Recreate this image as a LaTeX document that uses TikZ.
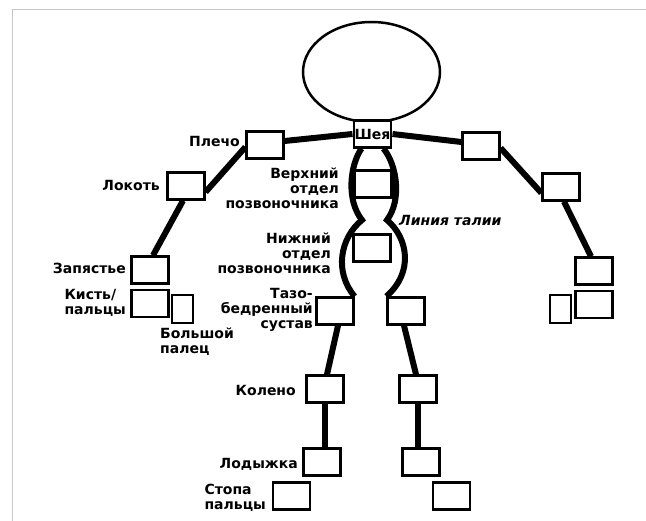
\documentclass[tikz,border=0pt]{standalone}
\usepackage{fontspec}
\setmainfont{DejaVu Sans}
\usetikzlibrary{positioning,shapes.geometric}

\begin{document}
\begin{tikzpicture}[x=1pt,y=-1pt,
  joint/.style={draw,line width=2.2pt,minimum width=37pt,minimum height=27pt,inner sep=0pt,fill=white},
  thumb/.style={joint,minimum width=21pt,minimum height=28pt},
  lbl/.style={font=\bfseries\fontsize{14}{14.8}\selectfont,inner sep=0pt,align=right},
  bone/.style={line width=6pt},
  spine/.style={line width=6pt,line join=miter}]

\useasboundingbox (0,0) rectangle (646,521);
\draw[black!22,line width=1.5pt] (12.5,521) -- (12.5,9.5) -- (646,9.5);

% head and trunk
\node[draw,ellipse,line width=2.5pt,minimum width=137pt,minimum height=100pt](head) at (371.5,72) {};
\node[joint,minimum width=36pt,inner sep=1pt,font=\bfseries\fontsize{14}{14}\selectfont](neck) at (372.5,134) {Шея};
\node[joint](upsp) at (373,184) {};
\node[joint](losp) at (372,248) {};
\node[joint](lhip) at (335,311) {};
\node[joint](rhip) at (406,311) {};

% arms
\node[joint](lsh) at (265,145) {};
\node[joint](rsh) at (481,146) {};
\node[joint](lel) at (186,186) {};
\node[joint](rel) at (561,187) {};
\node[joint](lwr) at (150,270) {};
\node[joint](rwr) at (594,271) {};
\node[joint](lhand)[below=4pt of lwr] {};
\node[joint](rhand)[below=4pt of rwr] {};
\node[thumb](lthumb) at (182.5,309) {};
\node[thumb](rthumb) at (560.5,309) {};

% legs
\node[joint](lknee) at (325,389) {};
\node[joint](rknee) at (418,389) {};
\node[joint](lank) at (322,462) {};
\node[joint](rank) at (421,462) {};
\node[joint](lfoot) at (291.5,496) {};
\node[joint](rfoot) at (451.5,496) {};

% bones
\draw[bone] (neck.west) -- ([yshift=4pt]lsh.east);
\draw[bone] (neck.east) -- ([yshift=4pt]rsh.west);
\draw[bone] ([yshift=-2pt]lsh.west) -- ([yshift=-6pt]lel.east);
\draw[bone] ([yshift=-2pt]rsh.east) -- ([yshift=-6pt]rel.west);
\draw[bone] ([xshift=-3pt]lel.south) -- ([xshift=3pt]lwr.north);
\draw[bone] ([xshift=3pt]rel.south) -- ([xshift=-3pt]rwr.north);
\draw[bone] ([xshift=3pt]lhip.south) -- ([xshift=2pt]lknee.north);
\draw[bone] ([xshift=-2pt]rhip.south) -- ([xshift=-2pt]rknee.north);
\draw[bone] (lknee) -- (lknee|-lank.north);
\draw[bone] (rknee) -- (rknee|-rank.north);
\draw[spine] ([xshift=-11pt]neck.south) .. controls (350,165) and (346,200) .. (362,220)
  .. controls (340,238) and (334,272) .. (lhip.north east);
\draw[spine] ([xshift=11pt]neck.south) .. controls (397,165) and (402,200) .. (387,220)
  .. controls (408,238) and (414,272) .. (rhip.north west);

% labels
\node[lbl,anchor=east](shlbl) at (240,141) {Плечо};
\node[lbl,anchor=east](ellbl) at (160,185) {Локоть};
\node[lbl,anchor=east](wrlbl) at (126,268) {Запястье};
\node[lbl,anchor=east,align=left](handlbl) at (126,303) {Кисть/\\пальцы};
\node[lbl,anchor=north west,align=left](thumblbl) at (160,328) {Большой\\палец};
\node[lbl,anchor=east](upsplbl) at (339,188) {Верхний\\отдел\\позвоночника};
\node[lbl,anchor=east](losplbl) at (331,253) {Нижний\\отдел\\позвоночника};
\node[lbl,anchor=west,font=\bfseries\itshape\fontsize{14}{15}\selectfont](waist) at (399,220) {Линия талии};
\node[lbl,anchor=east](hiplbl) at (313,310) {Тазо-\\бедренный\\сустав};
\node[lbl,anchor=east](kneelbl) at (296,390) {Колено};
\node[lbl,anchor=east](anklbl) at (298,464) {Лодыжка};
\node[lbl,anchor=east,align=left](footlbl) at (266,498) {Стопа\\пальцы};

\end{tikzpicture}
\end{document}
